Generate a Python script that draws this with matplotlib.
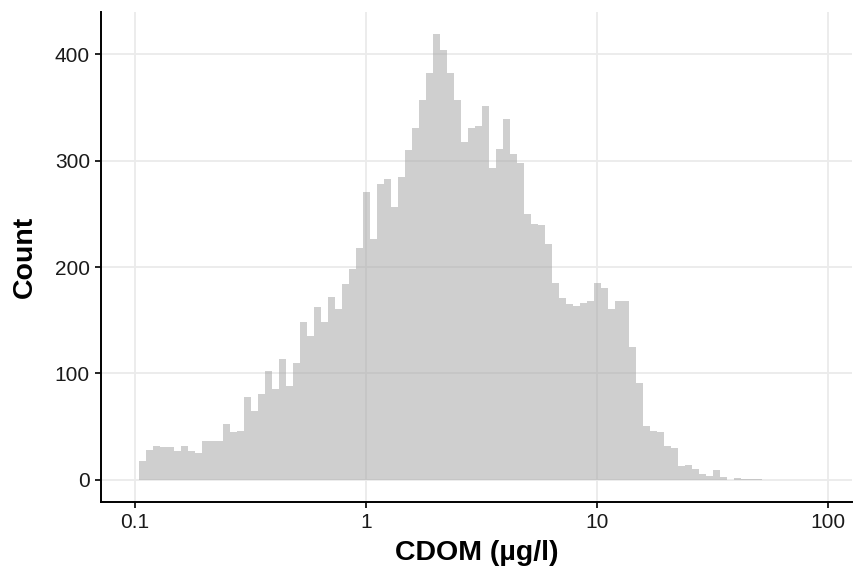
import numpy as np
import matplotlib
matplotlib.use("Agg")
import matplotlib.pyplot as plt

plt.rcParams['font.family'] = ['Liberation Sans', 'DejaVu Sans']

# histogram of CDOM on log10 scale
bin_start_log10 = -0.983
bin_width_log10 = 0.0303
counts = [18, 28, 32, 31, 31, 27, 32, 27, 25, 37,
          37, 37, 53, 45, 46, 78, 65, 81, 102, 85,
          114, 88, 110, 148, 135, 162, 148, 172, 161, 184,
          198, 218, 270, 226, 278, 283, 256, 285, 310, 331,
          357, 382, 419, 404, 382, 357, 317, 331, 332, 351,
          293, 311, 339, 306, 298, 250, 240, 239, 222, 185,
          171, 165, 163, 166, 168, 185, 180, 161, 168, 168,
          125, 91, 51, 46, 45, 32, 30, 13, 14, 10,
          6, 4, 9, 3, 0, 2, 1, 1, 1]
x_ticks = [0.1, 1, 10, 100]
x_tick_labels = ["0.1", "1", "10", "100"]
y_ticks = [0, 100, 200, 300, 400]

counts = np.array(counts)
left_log = bin_start_log10 + bin_width_log10 * np.arange(len(counts))
lefts = 10 ** left_log
rights = 10 ** (left_log + bin_width_log10)

fig = plt.figure(figsize=(8.54, 5.78), dpi=100)
ax = fig.add_axes([101/854, 1 - 502/578, (852-101)/854, (502-12)/578])

ax.set_xscale('log')
ax.bar(lefts, counts, width=rights - lefts, align='edge',
       color='#a3a3a3', alpha=0.52, linewidth=0, zorder=2)

ax.set_xlim(10 ** -1.147, 10 ** 2.104)
ax.set_ylim(-20.7, 439.5)

ax.set_xticks(x_ticks)
ax.set_xticklabels(x_tick_labels)
ax.xaxis.set_minor_locator(matplotlib.ticker.NullLocator())
ax.set_yticks(y_ticks)

ax.grid(True, which='major', color='#ebebeb', linewidth=1.3, zorder=0)
ax.set_axisbelow(True)

for s in ['top', 'right']:
    ax.spines[s].set_visible(False)
for s in ['left', 'bottom']:
    ax.spines[s].set_linewidth(1.4)
    ax.spines[s].set_color('black')

ax.tick_params(axis='both', length=4, width=1.2, color='black',
               labelsize=15, labelcolor='#1a1a1a', pad=4)

ax.set_xlabel('CDOM (µg/l)', fontsize=20.5, fontweight='bold', labelpad=6)
ax.set_ylabel('Count', fontsize=20.5, fontweight='bold', labelpad=12)

fig.savefig('out.png', dpi=100)
